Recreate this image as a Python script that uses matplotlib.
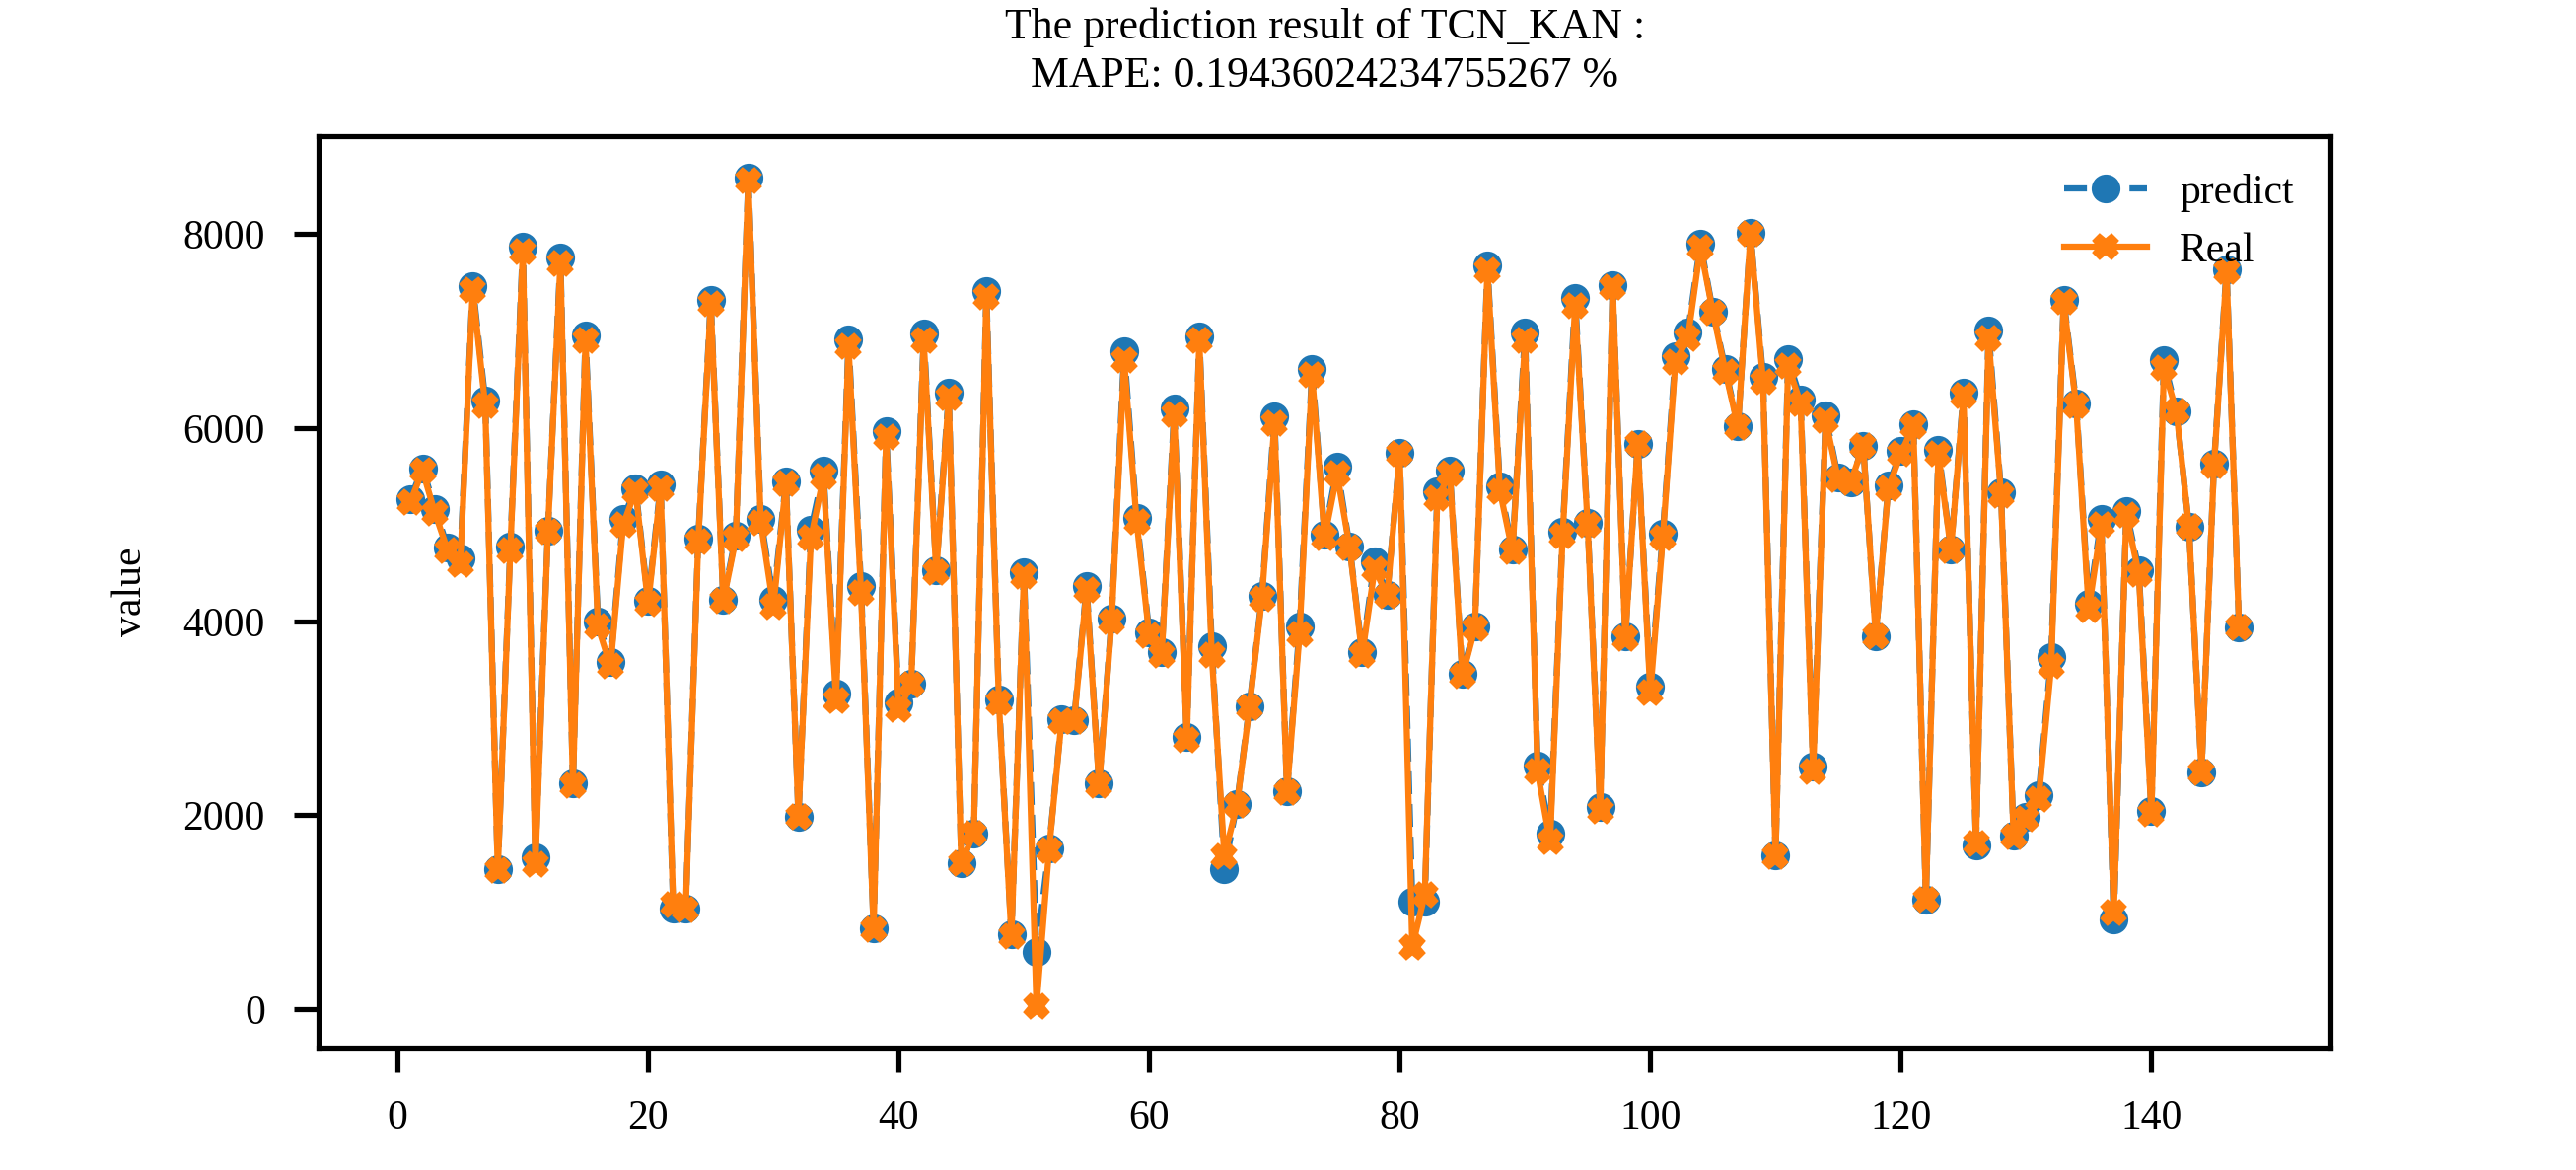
import numpy as np
import matplotlib
matplotlib.use("Agg")
import matplotlib.pyplot as plt

# values
predict = [5263, 5585, 5164, 4766, 4649, 7468, 6287, 1444, 4778, 7877,
           1567, 4942, 7760, 2327, 6959, 4006, 3579, 5059, 5380, 4211,
           5421, 1041, 1041, 4854, 7322, 4228, 4883, 8585, 5059, 4228,
           5450, 1988, 4953, 5556, 3257, 6912, 4368, 830, 5965, 3170,
           3363, 6971, 4532, 6363, 1509, 1813, 7409, 3199, 772, 4515,
           585, 1655, 2994, 2982, 4368, 2327, 4035, 6795, 5076, 3889,
           3684, 6199, 2807, 6942, 3743, 1444, 2117, 3129, 4269, 6123,
           2251, 3947, 6608, 4895, 5597, 4778, 3684, 4625, 4281, 5743,
           1111, 1111, 5351, 5556, 3462, 3947, 7678, 5398, 4749, 6988,
           2515, 1813, 4924, 7339, 5018, 2088, 7474, 3847, 5836, 3333,
           4912, 6737, 6988, 7906, 7205, 6608, 6023, 8012, 6532, 1591,
           6713, 6298, 2503, 6129, 5485, 5439, 5819, 3848, 5404, 5760,
           6035, 1129, 5772, 4749, 6363, 1684, 7006, 5339, 1795, 1988,
           2211, 3637, 7322, 6257, 4181, 5059, 924, 5146, 4532, 2047,
           6696, 6170, 4982, 2444, 5632, 7643, 3936]

real = [5234, 5556, 5117, 4737, 4591, 7427, 6228, 1433, 4737, 7819,
        1491, 4930, 7702, 2310, 6901, 3947, 3538, 5000, 5351, 4181,
        5380, 1080, 1023, 4825, 7281, 4211, 4854, 8550, 5018, 4152,
        5427, 1988, 4866, 5497, 3187, 6842, 4298, 819, 5906, 3099,
        3345, 6901, 4515, 6316, 1509, 1813, 7357, 3170, 749, 4474,
        29, 1637, 2971, 2971, 4328, 2310, 4006, 6696, 5029, 3860,
        3655, 6140, 2778, 6901, 3655, 1579, 2105, 3111, 4240, 6053,
        2240, 3871, 6550, 4866, 5526, 4766, 3655, 4545, 4269, 5731,
        643, 1181, 5275, 5526, 3439, 3930, 7632, 5351, 4725, 6901,
        2456, 1725, 4883, 7263, 5000, 2047, 7456, 3830, 5836, 3263,
        4871, 6678, 6930, 7866, 7193, 6579, 6012, 8000, 6479, 1579,
        6637, 6257, 2456, 6082, 5468, 5439, 5819, 3848, 5380, 5731,
        6023, 1129, 5731, 4737, 6333, 1708, 6930, 5310, 1784, 1959,
        2164, 3538, 7298, 6228, 4123, 5000, 994, 5099, 4491, 2018,
        6620, 6170, 4982, 2444, 5614, 7614, 3936]

model_name = "TCN_KAN"
mape = "0.19436024234755267"

plt.rcParams["font.family"] = ["Liberation Serif", "DejaVu Serif"]
plt.rcParams["font.size"] = 10
plt.rcParams["axes.linewidth"] = 1.25
plt.rcParams["xtick.major.size"] = 6
plt.rcParams["ytick.major.size"] = 6
plt.rcParams["xtick.major.width"] = 1.25
plt.rcParams["ytick.major.width"] = 1.25
plt.rcParams["xtick.major.pad"] = 6.5
plt.rcParams["ytick.major.pad"] = 7

x = np.arange(1, len(predict) + 1)

fig, ax = plt.subplots(figsize=(2612 / 300, 1186 / 300), dpi=300)
fig.subplots_adjust(left=0.1237, right=0.9047, top=0.8836, bottom=0.1046)

ax.plot(x, predict, "--", marker="o", color="#1f77b4", linewidth=1.5,
        markersize=6, label="predict")
ax.plot(x, real, "-", marker="X", color="#ff7f0e", linewidth=1.5,
        markersize=5.5, label="Real")

ax.set_title(f"The prediction result of {model_name} :\nMAPE: {mape} %",
             fontsize=10.5, pad=12, linespacing=1.3)
ax.set_ylabel("value", labelpad=8)
ax.legend(loc="upper right", frameon=False)

plt.savefig("out.png", dpi=300)
